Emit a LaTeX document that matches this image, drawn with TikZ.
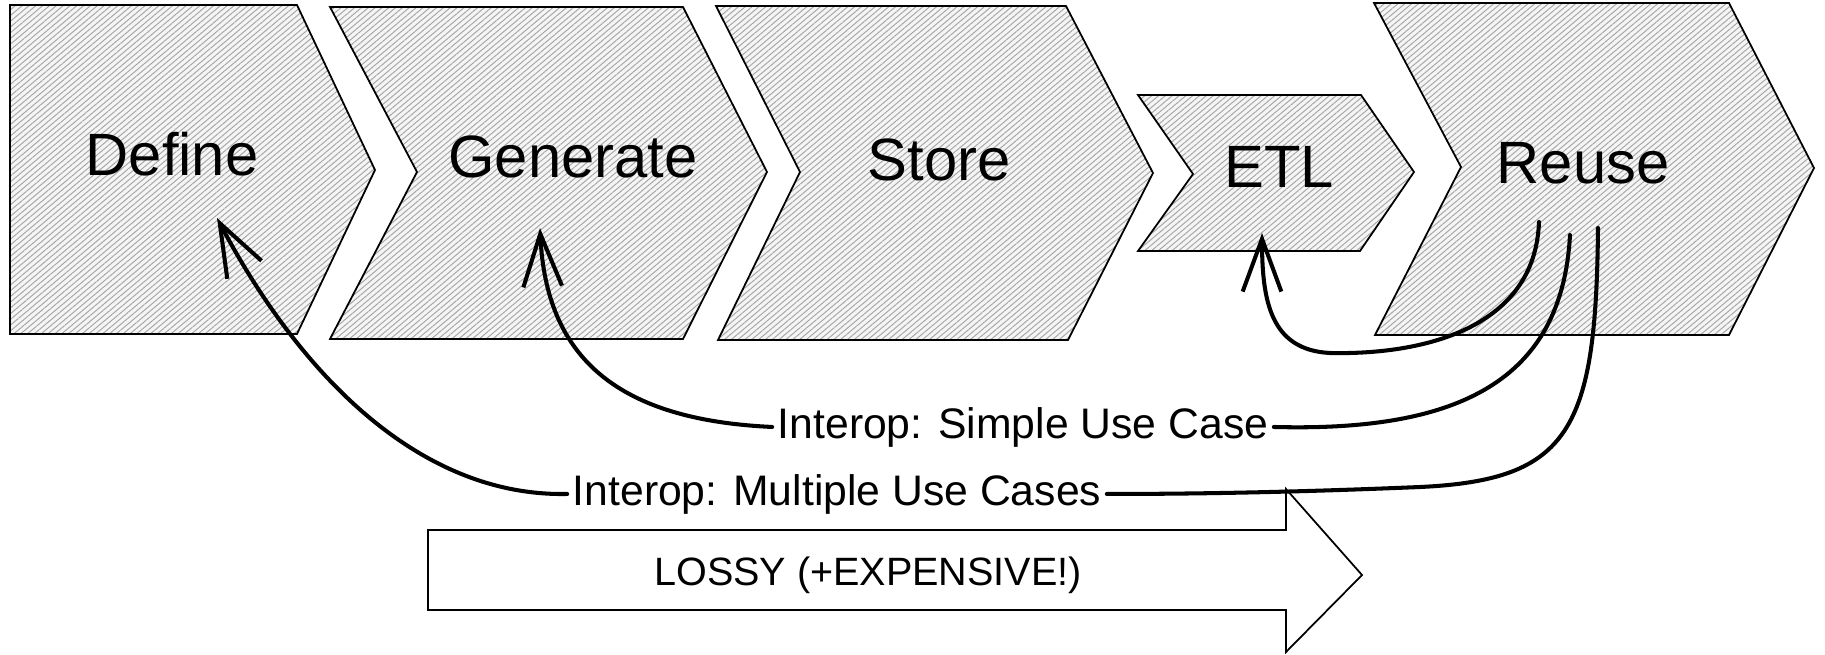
\documentclass[tikz,border=0pt]{standalone}
\usepackage{fontspec}
\setmainfont{Liberation Sans}
\usetikzlibrary{patterns.meta,arrows.meta}
\begin{document}
\begin{tikzpicture}[x=0.02cm,y=-0.02cm,
  stage/.style={draw=black, line width=1pt, line join=miter,
    preaction={fill=gray!8},
    pattern={Lines[angle=40,distance=2.5pt,line width=0.55pt]}, pattern color=gray!70},
  stagetext/.style={font=\fontsize{34}{40}\selectfont, anchor=base, inner sep=0pt},
  flowlabel/.style={font=\fontsize{24.3}{29}\selectfont, anchor=base, inner xsep=3pt, inner ysep=0pt},
  flow/.style={line width=2.3pt, line cap=round},
  headed/.style={-{Straight Barb[length=30pt,width=22pt]}},
  bigarrow/.style={draw=black, line width=1pt, fill=white, line join=miter}
]
\useasboundingbox (0,0) rectangle (1825,655);

% stages
\draw[stage] (10,5) -- (297,5) -- (375,170) -- (297,334) -- (10,334) -- cycle;
\draw[stage] (330,7) -- (683,7) -- (767,172) -- (683,339) -- (330,339) -- (417,172) -- cycle;
\draw[stage] (716,6) -- (1066,6) -- (1153,173) -- (1068,340) -- (718,340) -- (800,172) -- cycle;
\draw[stage] (1138,95) -- (1361,95) -- (1414,172) -- (1360,251) -- (1138,251) -- (1193,174) -- cycle;
\draw[stage] (1374,3) -- (1729,3) -- (1814,168) -- (1729,335) -- (1375,335) -- (1461,167) -- cycle;

\node[stagetext] (define) at (172,176) {Define};
\node[stagetext] (generate) at (573,178) {Generate};
\node[stagetext] (store) at (939,181) {Store};
\node[stagetext] (etl) at (1279,188) {ETL};
\node[stagetext] (reuse) at (1583,184) {Reuse};

% big arrow
\draw[bigarrow] (428,530) -- (1286,530) -- (1286,489) -- (1362,575) -- (1286,652) -- (1286,610) -- (428,610) -- cycle;
\node[font=\fontsize{22.5}{27}\selectfont, anchor=base, inner sep=0pt] (lossy) at (868,585) {LOSSY (+EXPENSIVE!)};

% labels on the flows
\node[flowlabel] (simple) at (1023,438) {Interop: Simple Use Case};
\node[flowlabel] (multiple) at (837,505) {Interop: Multiple Use Cases};

% endpoints
\coordinate (ra) at (1539,222);
\coordinate (rb) at (1570,235);
\coordinate (rc) at (1598,228);
\coordinate (etlhead) at (1262,233);
\coordinate (genhead) at (540,228);
\coordinate (defhead) at (217,218);

% flows
\draw[flow, headed] (ra) .. controls (1535,330) and (1420,355) .. (1330,353)
  .. controls (1270,350) and (1262,300) .. (etlhead);
\draw[flow] (rb) .. controls (1562,380) and (1460,432) .. (simple.east);
\draw[flow, headed] (simple.west) .. controls (620,420) and (546,360) .. (genhead);
\draw[flow] (rc) .. controls (1596,430) and (1570,480) .. (1420,487)
  .. controls (1300,492) and (1200,494) .. (multiple.east);
\draw[flow, headed] (multiple.west) .. controls (420,497) and (300,375) .. (defhead);
\end{tikzpicture}
\end{document}
